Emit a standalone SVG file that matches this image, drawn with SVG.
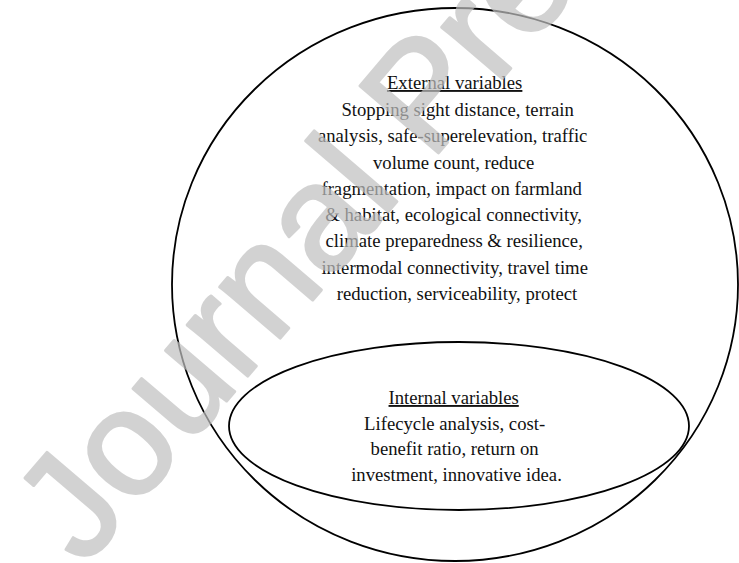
<svg xmlns="http://www.w3.org/2000/svg" width="739" height="563" viewBox="0 0 739 563">
  <style>
    .ring { fill: none; stroke: #000; stroke-width: 1.8; }
    .body { font-family: "Liberation Serif", "Times New Roman", serif; font-size: 18.7px; fill: #111; text-anchor: middle; }
    .head { text-decoration: underline; }
    .mark { font-family: "Liberation Sans", Arial, sans-serif; font-size: 150px; fill: #c0c0c0; stroke: #c0c0c0; stroke-width: 3; stroke-linejoin: round; }
  </style>
  <rect width="739" height="563" fill="#fff"/>

  <!-- outer set: external variables -->
  <g id="external">
    <ellipse class="ring" cx="455" cy="284.5" rx="283" ry="276.5"/>
    <text class="body">
      <tspan class="head" x="457" y="89">External variables</tspan>
      <tspan x="460" y="115.5">Stopping sight distance, terrain</tspan>
      <tspan x="455" y="142">analysis, safe-superelevation, traffic</tspan>
      <tspan x="456" y="168.5">volume count, reduce</tspan>
      <tspan x="454" y="195">fragmentation, impact on farmland</tspan>
      <tspan x="456" y="221">&amp; habitat, ecological connectivity,</tspan>
      <tspan x="456.5" y="247.3">climate preparedness &amp; resilience,</tspan>
      <tspan x="457" y="273.6">intermodal connectivity, travel time</tspan>
      <tspan x="457" y="299.8">reduction, serviceability, protect</tspan>
    </text>
  </g>

  <!-- inner set: internal variables -->
  <g id="internal">
    <ellipse class="ring" cx="459" cy="426" rx="230" ry="84"/>
    <text class="body">
      <tspan class="head" x="456" y="404">Internal variables</tspan>
      <tspan x="457" y="429.5">Lifecycle analysis, cost-</tspan>
      <tspan x="457" y="455">benefit ratio, return on</tspan>
      <tspan x="456.5" y="480.5">investment, innovative idea.</tspan>
    </text>
  </g>

  <!-- connectors: none between the two sets -->
  <g id="connectors"/>

  <!-- diagonal watermark laid over the figure -->
  <g opacity="0.7">
    <text class="mark" transform="translate(84 568) rotate(-49.5)">Journal Pre-proof</text>
  </g>
</svg>
